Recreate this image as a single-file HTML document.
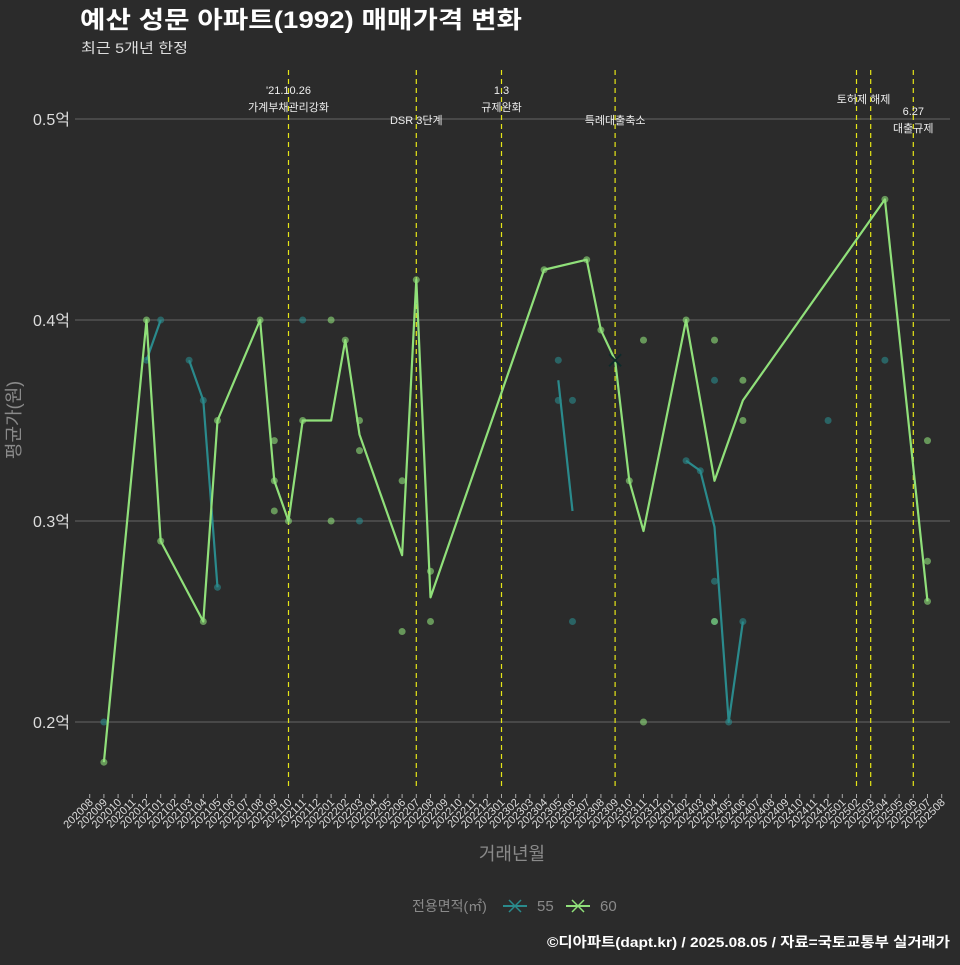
<!DOCTYPE html>
<html><head><meta charset="utf-8">
<style>
html,body{margin:0;padding:0;background:#2b2b2b;}
body{width:960px;height:960px;overflow:hidden;font-family:"Liberation Sans","Noto Sans CJK KR",sans-serif;}
svg text{font-family:"Liberation Sans","Noto Sans CJK KR",sans-serif;}
</style></head>
<body>
<svg id="chart" width="960" height="960" xmlns="http://www.w3.org/2000/svg">
<rect x="0" y="0" width="960" height="960" fill="#2b2b2b"/>
<text x="80" y="28" fill="#ffffff" font-size="24" font-weight="bold" textLength="442" lengthAdjust="spacingAndGlyphs">예산 성문 아파트(1992) 매매가격 변화</text>
<text x="81" y="53" fill="#dddddd" font-size="14" textLength="107" lengthAdjust="spacingAndGlyphs">최근 5개년 한정</text>
<g id="grid"></g>
<g id="vlines"></g>
<g id="series"></g>
<g id="xaxis"></g>
<text x="15" y="420" transform="rotate(-90 15 420)" text-anchor="middle" dominant-baseline="middle" fill="#8a8a8a" font-size="18">평균가(원)</text>
<text x="512" y="860" text-anchor="middle" fill="#8a8a8a" font-size="18">거래년월</text>
<g>
<text x="412" y="911" fill="#8a8a8a" font-size="14">전용면적(㎡)</text>
<g>
<line x1="503" y1="906" x2="527" y2="906" stroke="#2a8a8c" stroke-width="2"/>
<path d="M509 900 L521 912 M521 900 L509 912" stroke="#2a8a8c" stroke-width="1.5"/>
<text x="537" y="911" fill="#8a8a8a" font-size="15">55</text>
</g>
<g>
<line x1="566" y1="906" x2="590" y2="906" stroke="#90e07a" stroke-width="2"/>
<path d="M572 900 L584 912 M584 900 L572 912" stroke="#90e07a" stroke-width="1.5"/>
<text x="600" y="911" fill="#8a8a8a" font-size="15">60</text>
</g>
</g>
<text x="547" y="947" fill="#ffffff" font-size="14" font-weight="bold" textLength="403" lengthAdjust="spacingAndGlyphs">©디아파트(dapt.kr) / 2025.08.05 / 자료=국토교통부 실거래가</text>
</svg>
<script>
// month index = months since 2020-08
const yTicks = [0.2, 0.3, 0.4, 0.5];
const yTickLabels = ["0.2억", "0.3억", "0.4억", "0.5억"];
const policyMonths = [14, 23, 29, 37, 54, 55, 58];
const line60Months = [1,4,5,8,9,12,13,14,15,17,18,19,22,23,24,32,35,36,37,38,39,42,44,46,56,59];
const line60Values = [0.18,0.40,0.29,0.25,0.35,0.40,0.32,0.30,0.35,0.35,0.39,0.343,0.283,0.42,0.262,0.425,0.43,0.395,0.38,0.32,0.295,0.40,0.32,0.36,0.46,0.26];
const pts60Months = [1,4,5,8,9,12,13,13,13,14,15,17,17,18,19,19,22,22,23,24,24,32,35,36,38,39,39,42,44,44,46,46,56,59,59,59];
const pts60Values = [0.18,0.40,0.29,0.25,0.35,0.40,0.34,0.32,0.305,0.30,0.35,0.40,0.30,0.39,0.35,0.335,0.32,0.245,0.42,0.275,0.25,0.425,0.43,0.395,0.32,0.39,0.20,0.40,0.39,0.25,0.37,0.35,0.46,0.34,0.28,0.26];
const line55Segments = [
  {months:[4,5], values:[0.38,0.40]},
  {months:[7,8,9], values:[0.38,0.36,0.267]},
  {months:[33,34], values:[0.37,0.305]},
  {months:[42,43,44,45,46], values:[0.33,0.325,0.297,0.20,0.25]}
];
const pts55Months = [1,4,5,7,8,9,15,19,33,33,34,34,42,43,44,44,44,45,46,52,56];
const pts55Values = [0.20,0.38,0.40,0.38,0.36,0.267,0.40,0.30,0.38,0.36,0.36,0.25,0.33,0.325,0.37,0.27,0.25,0.20,0.25,0.35,0.38];
const xTickCount = 61;
const annotations = [
  {m:14, lines:["'21.10.26","가계부채관리강화"], y:94},
  {m:23, lines:["DSR 3단계"], y:124},
  {m:29, lines:["1.3","규제완화"], y:94},
  {m:37, lines:["특례대출축소"], y:124},
  {m:54.5, lines:["토허제 해제"], y:103},
  {m:58, lines:["6.27","대출규제"], y:115}
];

const NS = "http://www.w3.org/2000/svg";
const X0 = 89.7, DX = 14.2, PL = 75, PR = 950, PT = 70, PB = 790;
const x = m => X0 + DX * m;
const y = v => 521 - (v - 0.3) * 2010;
function mk(tag, attrs, parent) {
  const e = document.createElementNS(NS, tag);
  for (const k in attrs) e.setAttribute(k, attrs[k]);
  parent.appendChild(e);
  return e;
}
const grid = document.getElementById('grid');
yTicks.forEach((t, i) => {
  const gl = mk('line', {x1: PL, x2: PR, y1: y(t), y2: y(t), stroke: '#5a5a5a', 'stroke-width': 1.2}, grid);
  
  
  const tl = mk('text', {x: 70, y: y(t) + 6, 'text-anchor': 'end', fill: '#dddddd', 'font-size': 16}, grid);
  
  
  tl.textContent = yTickLabels[i];
});
const vl = document.getElementById('vlines');
policyMonths.forEach(m => {
  const l = mk('line', {x1: x(m), x2: x(m), y1: PT, y2: PB, stroke: '#e6e617', 'stroke-width': 1.2, 'stroke-dasharray': '5,4'}, vl);
  
  
});
annotations.forEach(a => {
  a.lines.forEach((s, i) => {
    const t = mk('text', {x: x(a.m), y: a.y + i * 17, 'text-anchor': 'middle', fill: '#eeeeee', 'font-size': 11}, vl);
    
    
    t.textContent = s;
  });
});
const xa = document.getElementById('xaxis');
for (let m = 0; m < xTickCount; m++) {
  const yr = 2020 + Math.floor((7 + m) / 12);
  const mo = ((7 + m) % 12) + 1;
  const lab = '' + yr + (mo < 10 ? '0' + mo : mo);
  const tk = mk('line', {x1: x(m), x2: x(m), y1: 794, y2: 798, stroke: '#aaaaaa', 'stroke-width': 1}, xa);
  
  
  const tt = mk('text', {x: x(m) + 4, y: 803, 'text-anchor': 'end', fill: '#dddddd', 'font-size': 11, transform: 'rotate(-45 ' + (x(m) + 4) + ' 803)'}, xa);
  
  
  tt.textContent = lab;
}
const sg = document.getElementById('series');
pts55Months.forEach((m, i) => {
  const c = mk('circle', {cx: x(m), cy: y(pts55Values[i]), r: 3.5, fill: '#2a8a8c', 'fill-opacity': 0.6}, sg);
  
  
});
pts60Months.forEach((m, i) => {
  const c = mk('circle', {cx: x(m), cy: y(pts60Values[i]), r: 3.5, fill: '#90e07a', 'fill-opacity': 0.6}, sg);
  
  
});
line55Segments.forEach(seg => {
  const p = mk('polyline', {points: seg.months.map((m, i) => x(m) + ',' + y(seg.values[i])).join(' '), fill: 'none', stroke: '#2a8a8c', 'stroke-width': 2.2, 'stroke-linejoin': 'round'}, sg);
  
  
});
const p60 = mk('polyline', {points: line60Months.map((m, i) => x(m) + ',' + y(line60Values[i])).join(' '), fill: 'none', stroke: '#90e07a', 'stroke-width': 2.2, 'stroke-linejoin': 'round'}, sg);


const cx = x(37), cy = y(0.38);
const xm = mk('path', {d: `M${cx-6} ${cy-6} L${cx+6} ${cy+6} M${cx+6} ${cy-6} L${cx-6} ${cy+6}`, stroke: '#0d2a2a', 'stroke-width': 1.8}, sg);


</script>
</body></html>
